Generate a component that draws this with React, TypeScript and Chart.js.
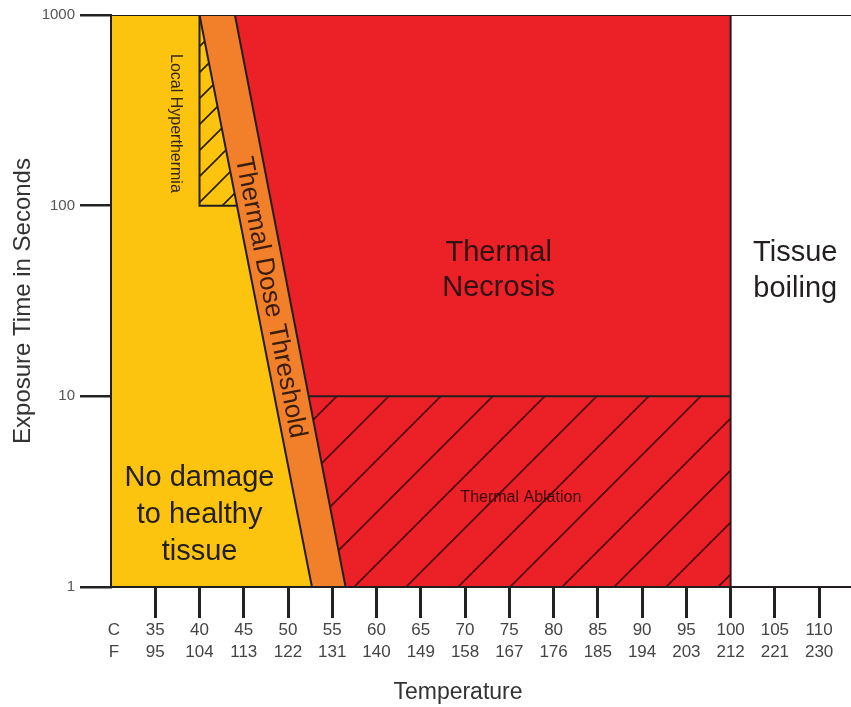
import React, { useEffect, useRef } from 'react';
import { Chart, registerables } from 'chart.js';

Chart.register(...registerables);

// Axis ticks
const celsiusTicks = [35, 40, 45, 50, 55, 60, 65, 70, 75, 80, 85, 90, 95, 100, 105, 110];
const fahrenheitTicks = [95, 104, 113, 122, 131, 140, 149, 158, 167, 176, 185, 194, 203, 212, 221, 230];
const exposureTicks = [1, 10, 100, 1000];

// Region boundaries: temperature (°C) and exposure time (s)
const necrosisTemp = [30, 100, 100];
const necrosisTime = [1000, 1000, 1];
const thresholdTemp = [30, 44, 56.5];
const thresholdTime = [1000, 1000, 1];
const noDamageTemp = [30, 40, 52.7];
const noDamageTime = [1000, 1000, 1];
const ablationTemp = [52.3, 100];
const ablationTime = [10, 10];
const hyperthermiaTemp = [40, 40, 44.2];
const hyperthermiaTime = [1000, 100, 100];
const frameTemp = [30, 113.6];
const frameTime = [1000, 1000];

const FONT = "'Liberation Sans', Arial, Helvetica, sans-serif";

function pts(xs: number[], ys: number[]) {
  return xs.map((x, i) => ({ x, y: ys[i] }));
}

function makeHatch(ctx: CanvasRenderingContext2D, size: number, offset: number, color: string, width: number) {
  const c = document.createElement('canvas');
  c.width = size;
  c.height = size;
  const g = c.getContext('2d')!;
  g.strokeStyle = color;
  g.lineWidth = width;
  g.beginPath();
  for (let k = 0; k <= 2; k++) {
    g.moveTo(-size, k * size + size);
    g.lineTo(2 * size, k * size - 2 * size);
  }
  g.stroke();
  const p = ctx.createPattern(c, 'repeat')!;
  try {
    p.setTransform(new DOMMatrix([1, 0, 0, 1, offset, 0]));
  } catch (e) {}
  return p;
}

function drawLines(ctx: CanvasRenderingContext2D, lines: string[], x: number, y: number, lh: number) {
  const n = lines.length;
  lines.forEach((t, i) => ctx.fillText(t, x, y + (i - (n - 1) / 2) * lh));
}

const labelPlugin = {
  id: 'regionLabels',
  afterDraw(chart: any) {
    const { ctx, chartArea } = chart;
    const xs = chart.scales.x;
    const ys = chart.scales.y;
    const px = (t: number) => xs.getPixelForValue(t);
    const py = (v: number) => ys.getPixelForValue(v);
    const f = (s: number) => `${s}px ${FONT}`;
    ctx.save();
    ctx.textAlign = 'center';
    ctx.textBaseline = 'middle';

    ctx.fillStyle = '#231f20';
    ctx.font = f(29);
    drawLines(ctx, ['No damage', 'to healthy', 'tissue'], px(40), py(2.4), 37);

    ctx.fillStyle = '#2e1214';
    drawLines(ctx, ['Thermal', 'Necrosis'], px(73.8), py(45.7), 35);

    ctx.fillStyle = '#231f20';
    drawLines(ctx, ['Tissue', 'boiling'], px(107.3), py(45.7), 36);

    ctx.fillStyle = '#3a0809';
    ctx.font = f(16);
    ctx.fillText('Thermal Ablation', px(76.3), py(2.93));

    ctx.save();
    ctx.translate(px(37.3), py(270));
    ctx.rotate(Math.PI / 2);
    ctx.font = f(16);
    ctx.fillStyle = '#35280a';
    ctx.fillText('Local Hyperthermia', 0, 0);
    ctx.restore();

    const ang = Math.atan2(
      py(noDamageTime[2]) - py(noDamageTime[1]),
      px(noDamageTemp[2]) - px(noDamageTemp[1])
    );
    ctx.save();
    ctx.translate(px(48), py(33));
    ctx.rotate(ang);
    ctx.font = f(26);
    ctx.fillStyle = '#3a1d0e';
    ctx.fillText('Thermal Dose Threshold', 0, 0);
    ctx.restore();

    ctx.fillStyle = '#444';
    ctx.font = f(17);
    ctx.fillText('C', px(30) + 3, chartArea.bottom + 43);
    ctx.fillText('F', px(30) + 3, chartArea.bottom + 65);

    ctx.fillStyle = '#333';
    ctx.font = f(23);
    ctx.fillText('Temperature', px(69.2), chartArea.bottom + 106);
    ctx.restore();
  },
};

export default function App() {
  const ref = useRef<HTMLCanvasElement>(null);

  useEffect(() => {
    const canvas = ref.current!;
    const ctx = canvas.getContext('2d')!;
    Chart.defaults.font.family = FONT;
    const ablationHatch = makeHatch(ctx, 52, 5, '#520709', 1.7);
    const hyperHatch = makeHatch(ctx, 26, 12, '#2a1d05', 1.6);
    const edge = '#231f20';

    const line = (label: string, data: any[], extra: any) => ({
      label,
      data,
      showLine: true,
      pointRadius: 0,
      tension: 0,
      borderJoinStyle: 'miter',
      borderColor: edge,
      borderWidth: 2,
      ...extra,
    });

    const chart = new Chart(canvas, {
      type: 'line',
      data: {
        datasets: [
          line('Frame', pts(frameTemp, frameTime), { fill: false }),
          line('Local Hyperthermia', pts(hyperthermiaTemp, hyperthermiaTime), { fill: 2, backgroundColor: hyperHatch }),
          line('No damage to healthy tissue', pts(noDamageTemp, noDamageTime), { fill: 'start', backgroundColor: '#fdc40f' }),
          line('Thermal Dose Threshold', pts(thresholdTemp, thresholdTime), { fill: 'start', backgroundColor: '#f2802a' }),
          line('Thermal Ablation', pts(ablationTemp, ablationTime), { fill: 'start', backgroundColor: ablationHatch }),
          line('Thermal Necrosis', pts(necrosisTemp, necrosisTime), { fill: 'start', backgroundColor: '#ec2027' }),
        ],
      },
      options: {
        animation: false,
        responsive: false,
        events: [],
        layout: { padding: { top: 15, left: 0, right: 0, bottom: 0 } },
        plugins: { legend: { display: false }, tooltip: { enabled: false } },
        scales: {
          x: {
            type: 'linear',
            min: 30,
            max: 113.6,
            afterBuildTicks: (s: any) => {
              s.ticks = celsiusTicks.map((v) => ({ value: v }));
            },
            afterFit: (s: any) => {
              s.height = 120;
            },
            ticks: {
              autoSkip: false,
              maxRotation: 0,
              padding: 1,
              color: '#444',
              font: { size: 17, lineHeight: 22 / 17 },
              callback: (_v: any, i: number) => [String(celsiusTicks[i]), String(fahrenheitTicks[i])],
            },
            grid: { drawOnChartArea: false, drawTicks: true, tickLength: 31, color: '#222', lineWidth: 3, z: 1 },
            border: { display: true, color: edge, width: 2, z: 1 },
          },
          y: {
            type: 'logarithmic',
            min: 1,
            max: 1000,
            afterBuildTicks: (s: any) => {
              s.ticks = exposureTicks.map((v) => ({ value: v }));
            },
            afterFit: (s: any) => {
              s.width = 111;
            },
            ticks: {
              padding: 5,
              color: '#555',
              font: { size: 15 },
              callback: (v: any) => String(v),
            },
            grid: { drawOnChartArea: false, drawTicks: true, tickLength: 31, color: '#222', lineWidth: 2.5, z: 1 },
            border: { display: true, color: edge, width: 2, z: 1 },
            title: {
              display: true,
              text: 'Exposure Time in Seconds',
              color: '#333',
              font: { size: 24 },
              padding: { top: 9, bottom: 0 },
            },
          },
        },
      },
      plugins: [labelPlugin],
    } as any);

    return () => chart.destroy();
  }, []);

  return (
    <div style={{ position: 'absolute', left: 0, top: 0, width: 851, height: 707, background: '#fff' }}>
      <canvas ref={ref} width={851} height={707} style={{ display: 'block' }} />
    </div>
  );
}
